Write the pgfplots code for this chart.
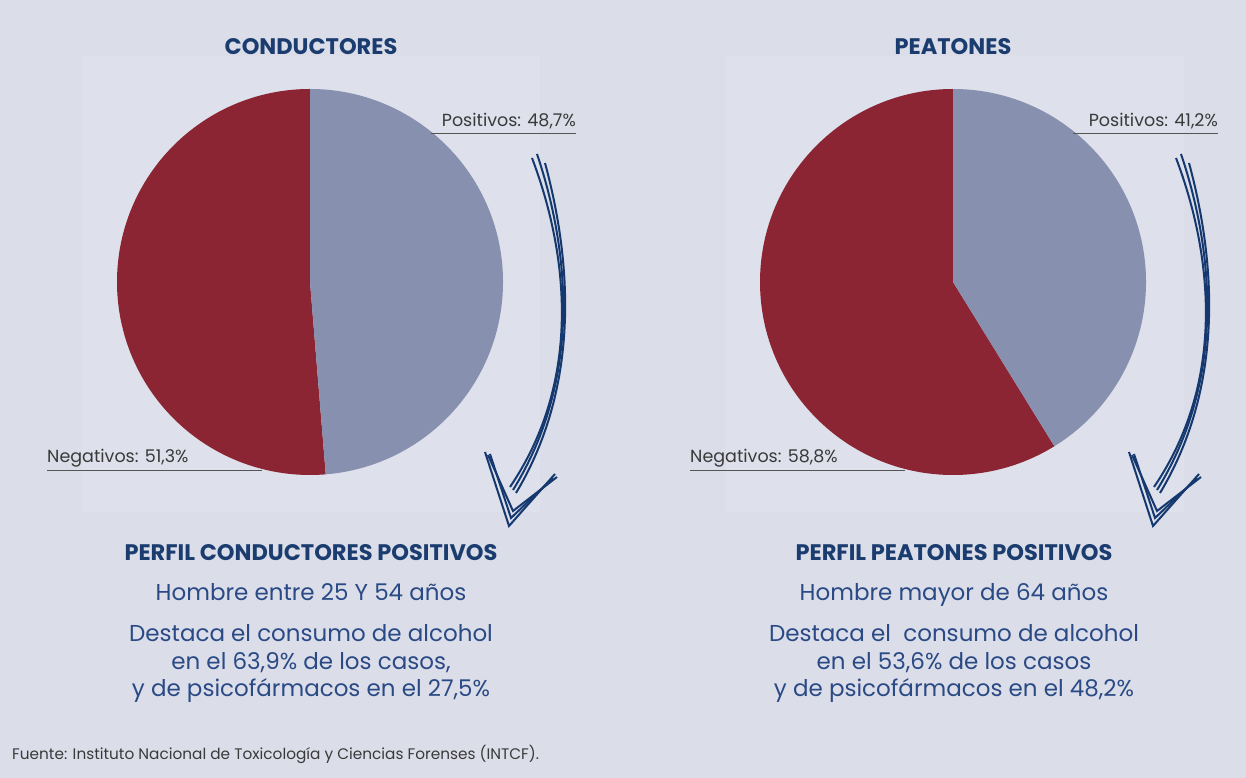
\documentclass[border=0pt]{standalone}
\usepackage{pgfplots}
\pgfplotsset{compat=1.18}
\usepackage{fontspec}
\setmainfont{Poppins}
\definecolor{bg}{HTML}{DBDDE9}
\definecolor{panel}{HTML}{DEE0EB}
\definecolor{poscol}{HTML}{8790AF}
\definecolor{negcol}{HTML}{8B2533}
\definecolor{ttl}{HTML}{1B3C6F}
\definecolor{bodyc}{HTML}{2A4A85}
\definecolor{lbl}{HTML}{3A3A3A}
\definecolor{uline}{HTML}{555555}
\definecolor{arr}{HTML}{15396F}

% shares (percent) of positive results
\def\posC{48.7}
\def\posP{41.2}

\newcommand\piechart[3]{%
\begin{axis}[at={(#1bp,#2bp)}, anchor=center, hide axis,
  x=193bp, y=193bp, xmin=-1, xmax=1, ymin=-1, ymax=1, clip=false]
  \fill[negcol] (axis cs:0,0) -- (axis cs:0,1)
     arc[start angle=90, end angle={90+3.6*(100-#3)}, radius=193bp] -- cycle;
  \fill[poscol] (axis cs:0,0) -- (axis cs:0,1)
     arc[start angle=90, end angle={90-3.6*#3}, radius=193bp] -- cycle;
\end{axis}}

\newcommand\arrowdraw[1]{%
\begin{scope}[xshift=#1bp, draw=arr, line width=2bp, line join=miter]
  \draw (532,158) .. controls (565,245) and (586,375) .. (510,487);
  \draw (537,154) .. controls (566,240) and (586,372) .. (513,490);
  \draw (545,163) .. controls (568,248) and (585,378) .. (516,493);
  \draw (485,452) -- (509,526) -- (555,474);
  \draw (490,454) -- (511,518) -- (553,478);
  \draw (488,455) -- (513,511) -- (557,477);
\end{scope}}

\begin{document}
\begin{tikzpicture}
\begin{scope}[x=1bp, y=-1bp, shift={(0bp,778bp)}]
  \fill[bg] (0,0) rectangle (1246,778);
  \fill[panel] (82,56) rectangle (540,512);
  \fill[panel] (726,56) rectangle (1184,512);
\end{scope}

\piechart{310}{496}{\posC}
\piechart{953}{496}{\posP}

\begin{scope}[x=1bp, y=-1bp, shift={(0bp,778bp)}]
  % titles
  \node[anchor=base, inner sep=0, text=ttl, font=\fontsize{22.5bp}{26bp}\selectfont\bfseries] at (311,55) {CONDUCTORES};
  \node[anchor=base, inner sep=0, text=ttl, font=\fontsize{22.5bp}{26bp}\selectfont\bfseries] at (953,55) {PEATONES};

  % labels
  \tikzset{lab/.style={inner sep=0, text=lbl, font=\fontsize{17.5bp}{20bp}\selectfont}}
  \node[lab, anchor=base east] at (576,127) {Positivos: 48,7\%};
  \draw[uline, line width=1.4bp] (431,133.5) -- (576,133.5);
  \node[lab, anchor=base west] at (47,463) {Negativos: 51,3\%};
  \draw[uline, line width=1.4bp] (47,470.5) -- (262,470.5);
  \node[lab, anchor=base east] at (1218,127) {Positivos: 41,2\%};
  \draw[uline, line width=1.4bp] (1073,133.5) -- (1218,133.5);
  \node[lab, anchor=base west] at (690,463) {Negativos: 58,8\%};
  \draw[uline, line width=1.4bp] (690,470.5) -- (905,470.5);

  % arrows
  \arrowdraw{0}
  \arrowdraw{644}

  % profile texts
  \tikzset{hd/.style={anchor=base, inner sep=0, text=ttl, font=\fontsize{22.5bp}{26bp}\selectfont\bfseries},
           bd/.style={anchor=base, inner sep=0, text=bodyc, font=\fontsize{23bp}{27bp}\selectfont}}
  \node[hd] at (311,561) {PERFIL CONDUCTORES POSITIVOS};
  \node[bd] at (311,601) {Hombre entre 25 Y 54 años};
  \node[bd] at (311,642) {Destaca el consumo de alcohol};
  \node[bd] at (311,670) {en el 63,9\% de los casos,};
  \node[bd] at (311,697) {y de psicofármacos en el 27,5\%};

  \node[hd] at (954,561) {PERFIL PEATONES POSITIVOS};
  \node[bd] at (954,601) {Hombre mayor de 64 años};
  \node[bd] at (954,642) {Destaca el\ \ consumo de alcohol};
  \node[bd] at (954,670) {en el 53,6\% de los casos};
  \node[bd] at (954,697) {y de psicofármacos en el 48,2\%};

  % source
  \node[anchor=base west, inner sep=0, text=lbl, font=\fontsize{15.3bp}{18bp}\selectfont] at (12,760) {Fuente: Instituto Nacional de Toxicología y Ciencias Forenses (INTCF).};
\end{scope}
\end{tikzpicture}
\end{document}
